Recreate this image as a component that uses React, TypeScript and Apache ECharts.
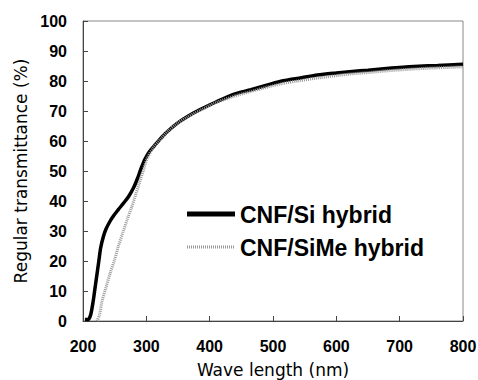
import React, { useEffect, useRef } from "react";
import * as echarts from "echarts";

const siX = [203, 208, 212, 216, 219, 222, 225, 228, 232, 236, 242, 248, 256, 264, 272, 280, 286, 292, 298, 305, 315, 330, 348, 365, 385, 410, 440, 465, 490, 516, 545, 570, 600, 625, 650, 675, 700, 730, 760, 800];
const siY = [0.5, 0.5, 2, 6.5, 11, 15.5, 20, 24.5, 28, 30.5, 33, 35, 37.2, 39.3, 41.5, 44.5, 47.5, 51, 54, 56.5, 59, 62.5, 65.8, 68.2, 70.5, 73, 75.7, 77.1, 78.6, 80.1, 81.1, 82, 82.7, 83.2, 83.6, 84.1, 84.5, 84.9, 85.2, 85.6];

const meX = [222, 226, 230, 236, 243, 250, 256, 263, 270, 277, 283, 289, 295, 301, 310, 322, 335, 348, 365, 385, 410, 440, 465, 490, 516, 545, 570, 600, 625, 650, 675, 700, 730, 760, 800];
const meY = [0, 2, 6.5, 11, 16, 20.5, 25, 29.5, 34, 38, 42, 46, 50, 54, 57.5, 60.5, 63.5, 65.8, 68, 70.2, 72.8, 75, 76.5, 77.9, 79.2, 80.2, 81, 81.8, 82.4, 82.8, 83.3, 83.7, 84.1, 84.4, 84.7];

const seriesNames = ["CNF/Si hybrid", "CNF/SiMe hybrid"];
const xTitle = "Wave length (nm)";
const yTitle = "Regular transmittance (%)";

const zip = (xs: number[], ys: number[]) => xs.map((x, i) => [x, ys[i]]);

export default function App() {
  const ref = useRef<HTMLDivElement>(null);
  useEffect(() => {
    if (!ref.current) return;
    const chart = echarts.init(ref.current, null, { renderer: "svg" });
    const tickFont = {
      fontFamily: "Liberation Sans, Arial, sans-serif",
      fontWeight: "bold" as const,
      fontSize: 16,
      color: "#000",
    };
    const legendFont = {
      fontFamily: "Liberation Sans, Arial, sans-serif",
      fontWeight: "bold",
      fontSize: 23,
      fill: "#000",
    };
    chart.setOption({
      animation: false,
      backgroundColor: "#fff",
      grid: {
        left: 83,
        right: 15,
        top: 21,
        bottom: 59,
        containLabel: false,
        outerBoundsMode: "none",
        show: true,
        borderColor: "#888",
        borderWidth: 1,
        backgroundColor: "transparent",
      },
      graphic: [
        {
          type: "line",
          shape: { x1: 187, y1: 214, x2: 235, y2: 214 },
          style: { stroke: "#000", lineWidth: 5 },
        },
        {
          type: "text",
          x: 240,
          y: 215,
          style: { ...legendFont, text: seriesNames[0], verticalAlign: "middle" },
        },
        {
          type: "line",
          shape: { x1: 187, y1: 247, x2: 235, y2: 247 },
          style: { stroke: "#999", lineWidth: 3, lineDash: [1, 1] },
        },
        {
          type: "text",
          x: 240,
          y: 248,
          style: { ...legendFont, text: seriesNames[1], verticalAlign: "middle" },
        },
      ],
      xAxis: {
        type: "value",
        min: 200,
        max: 800,
        interval: 100,
        name: xTitle,
        nameLocation: "middle",
        nameGap: 40,
        nameTextStyle: { fontFamily: "DejaVu Sans, sans-serif", fontSize: 17, color: "#000" },
        axisLine: { show: true, lineStyle: { color: "#444", width: 1 } },
        axisTick: { show: true, inside: true, length: 5, lineStyle: { color: "#444" } },
        axisLabel: { ...tickFont, margin: 17 },
        splitLine: { show: false },
      },
      yAxis: {
        type: "value",
        min: 0,
        max: 100,
        interval: 10,
        name: yTitle,
        nameLocation: "middle",
        nameGap: 48,
        nameRotate: 90,
        nameTextStyle: { fontFamily: "DejaVu Sans, sans-serif", fontSize: 17, color: "#000" },
        axisLine: { show: true, lineStyle: { color: "#444", width: 1 } },
        axisTick: { show: true, inside: true, length: 5, lineStyle: { color: "#444" } },
        axisLabel: { ...tickFont, margin: 16 },
        splitLine: { show: false },
      },
      series: [
        {
          name: seriesNames[0],
          type: "line",
          data: zip(siX, siY),
          showSymbol: false,
          symbol: "none",
          smooth: 0.3,
          lineStyle: { color: "#000", width: 3.5 },
          itemStyle: { color: "#000" },
          z: 2,
        },
        {
          name: seriesNames[1],
          type: "line",
          data: zip(meX, meY),
          showSymbol: false,
          symbol: "none",
          smooth: 0.3,
          lineStyle: { color: "#999", width: 3, type: [1, 1] },
          itemStyle: { color: "#999" },
          z: 3,
        },
      ],
    });
    return () => chart.dispose();
  }, []);
  return (
    <div
      ref={ref}
      style={{ position: "fixed", left: 0, top: 0, width: 478, height: 380 }}
    />
  );
}
